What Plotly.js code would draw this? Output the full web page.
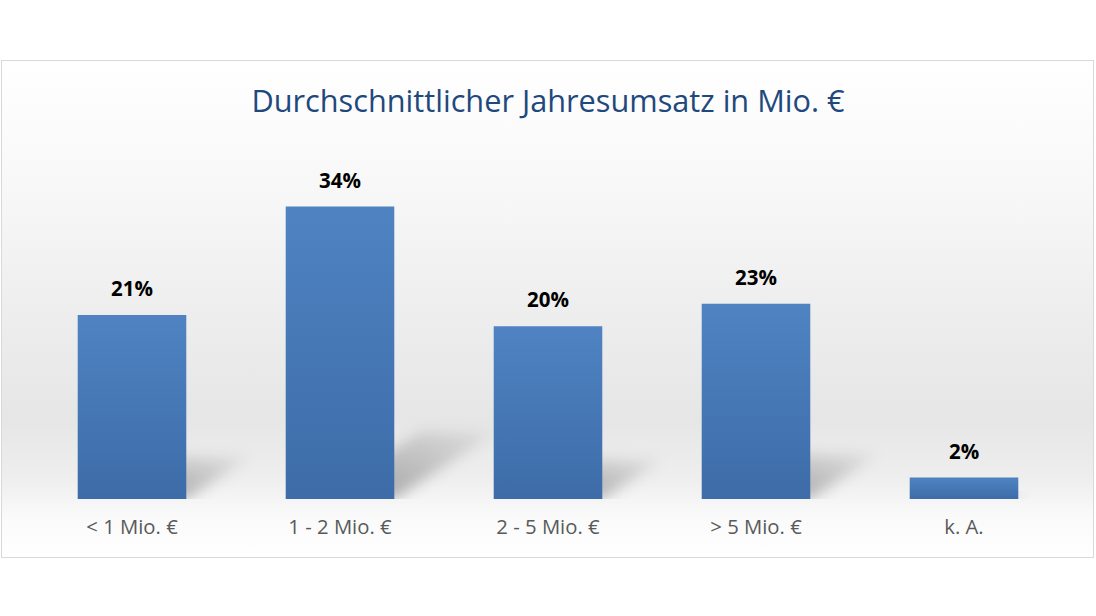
<!DOCTYPE html>
<html>
<head>
<meta charset="utf-8">
<script src="https://cdn.plot.ly/plotly-3.0.1.min.js"></script>
<style>
  html, body { margin: 0; padding: 0; background: #ffffff; }
  #wrap { position: relative; width: 1096px; height: 616px; }
  #frame {
    position: absolute; left: 1px; top: 60px; width: 1091px; height: 496px;
    border: 1px solid #d9d9d9;
    background: linear-gradient(to bottom, #ffffff 0%, #f8f8f8 25%, #eeeeee 50%, #e6e6e6 72%, #eeeeee 84%, #fafafa 92%, #ffffff 100%);
  }
  #chart { position: absolute; left: 0; top: 0; width: 1096px; height: 616px; }
</style>
</head>
<body>
<div id="wrap">
  <div id="frame"></div>
  <div id="chart"></div>
</div>
<script>
const TITLE = "Durchschnittlicher Jahresumsatz in Mio. €";
const categories = ["< 1 Mio. €", "1 - 2 Mio. €", "2 - 5 Mio. €", "> 5 Mio. €", "k. A."];
// bar heights as measured, labels as printed
const shares = [21.4, 34.0, 20.1, 22.7, 2.5];
const shareLabels = ["21%", "34%", "20%", "23%", "2%"];

const FONT = "'Open Sans', Lato, sans-serif";

const trace = {
  type: "bar",
  x: categories,
  y: shares,
  marker: { color: "#4a7ebb", line: { width: 0 } },
  hoverinfo: "skip",
};

const labels = categories.map((c, i) => ({
  x: c,
  y: shares[i],
  text: "<b>" + shareLabels[i] + "</b>",
  showarrow: false,
  yanchor: "bottom",
  yshift: 11,
  font: { family: FONT, size: 20.5, color: "#000000" },
}));

const layout = {
  width: 1096,
  height: 616,
  paper_bgcolor: "rgba(0,0,0,0)",
  plot_bgcolor: "rgba(0,0,0,0)",
  margin: { l: 28, r: 28, t: 155, b: 117 },
  bargap: 0.478,
  showlegend: false,
  title: {
    text: TITLE,
    x: 0.5,
    xanchor: "center",
    y: 1 - 101 / 616,
    yref: "container",
    yanchor: "middle",
    font: { family: FONT, size: 30.7, color: "#1f497d" },
  },
  xaxis: {
    showgrid: false,
    zeroline: false,
    showline: false,
    ticks: "",
    ticklabelstandoff: 14,
    tickfont: { family: FONT, size: 20.3, color: "#595959" },
  },
  yaxis: {
    range: [0, 40],
    visible: false,
    fixedrange: true,
  },
  annotations: labels,
};

function svgEl(name, attrs) {
  const el = document.createElementNS("http://www.w3.org/2000/svg", name);
  Object.entries(attrs).forEach(([k, v]) => el.setAttribute(k, v));
  return el;
}

Plotly.newPlot("chart", [trace], layout, { displayModeBar: false, staticPlot: true }).then((gd) => {
  const svg = gd.querySelector("svg.main-svg");
  let defs = svg.querySelector("defs");
  if (!defs) { defs = svgEl("defs", {}); svg.prepend(defs); }

  // vertical gradient on the bars
  const grad = svgEl("linearGradient", { id: "barFill", x1: 0, y1: 0, x2: 0, y2: 1 });
  grad.appendChild(svgEl("stop", { offset: "0%", "stop-color": "#4f83c2" }));
  grad.appendChild(svgEl("stop", { offset: "100%", "stop-color": "#3d6ca8" }));
  defs.appendChild(grad);

  // soft floor shadow behind each bar
  const shade = svgEl("linearGradient", { id: "shadeFill", x1: 0, y1: 1, x2: 1, y2: 0 });
  shade.appendChild(svgEl("stop", { offset: "0%", "stop-color": "#000", "stop-opacity": 0.36 }));
  shade.appendChild(svgEl("stop", { offset: "100%", "stop-color": "#000", "stop-opacity": 0.04 }));
  defs.appendChild(shade);
  const blur = svgEl("filter", { id: "shadeBlur", x: "-50%", y: "-50%", width: "200%", height: "200%" });
  blur.appendChild(svgEl("feGaussianBlur", { stdDeviation: 7 }));
  defs.appendChild(blur);

  gd.querySelectorAll(".bars .point").forEach((pt) => {
    const p = pt.querySelector("path");
    p.style.fill = "url(#barFill)";
    const b = p.getBBox();
    const bottom = b.y + b.height;
    const dx = 0.35 * b.height, dy = 0.23 * b.height;
    const pts = [
      [b.x + b.width * 0.3, bottom],
      [b.x + b.width, bottom],
      [b.x + b.width + dx, bottom - dy],
      [b.x + b.width * 0.3 + dx, bottom - dy],
    ].map((q) => q.join(",")).join(" ");
    const poly = svgEl("polygon", { points: pts, fill: "url(#shadeFill)", filter: "url(#shadeBlur)" });
    pt.parentNode.insertBefore(poly, pt.parentNode.firstChild);
  });
});
</script>
</body>
</html>
